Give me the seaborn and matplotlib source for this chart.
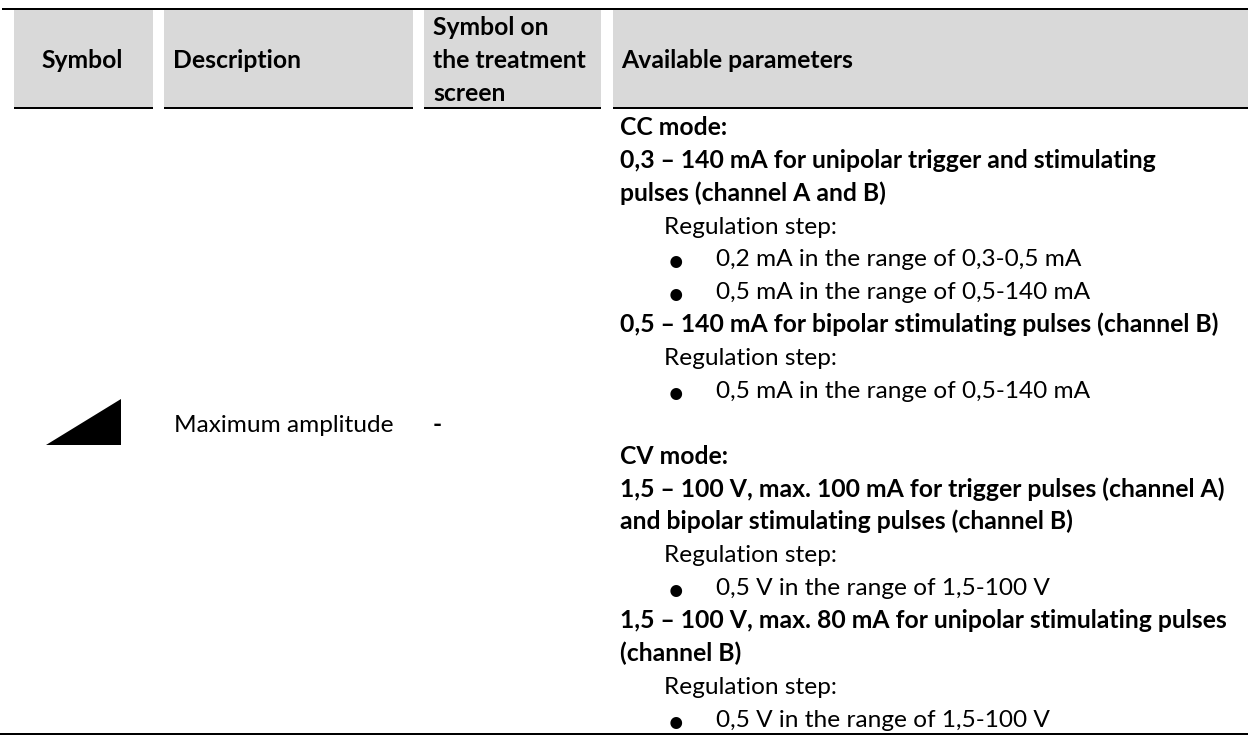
import matplotlib
matplotlib.use("Agg")
import matplotlib.pyplot as plt
from matplotlib.patches import Rectangle, Polygon
import seaborn as sns

headers = ["Symbol", "Description", "Symbol on\nthe treatment\nscreen", "Available parameters"]
description = "Maximum amplitude"
screen_symbol = "-"
# (kind, text): b = bold, r = indented plain, • = bullet
param_lines = [
    ("b", "CC mode:"),
    ("b", "0,3 – 140 mA for unipolar trigger and stimulating"),
    ("b", "pulses (channel A and B)"),
    ("r", "Regulation step:"),
    ("•", "0,2 mA in the range of 0,3-0,5 mA"),
    ("•", "0,5 mA in the range of 0,5-140 mA"),
    ("b", "0,5 – 140 mA for bipolar stimulating pulses (channel B)"),
    ("r", "Regulation step:"),
    ("•", "0,5 mA in the range of 0,5-140 mA"),
    ("", ""),
    ("b", "CV mode:"),
    ("b", "1,5 – 100 V, max. 100 mA for trigger pulses (channel A)"),
    ("b", "and bipolar stimulating pulses (channel B)"),
    ("r", "Regulation step:"),
    ("•", "0,5 V in the range of 1,5-100 V"),
    ("b", "1,5 – 100 V, max. 80 mA for unipolar stimulating pulses"),
    ("b", "(channel B)"),
    ("r", "Regulation step:"),
    ("•", "0,5 V in the range of 1,5-100 V"),
]

sns.set_theme(style="white")
plt.rcParams["font.family"] = ["Lato", "DejaVu Sans"]
fig = plt.figure(figsize=(12.48, 7.36), dpi=100)
ax = fig.add_axes([0, 0, 1, 1])
ax.set_xlim(0, 1248)
ax.set_ylim(736, 0)
ax.axis("off")

FS_B = 17.8
FS_R = 17.6
LW = 1.44
cols = [(14, 153), (164, 413), (424, 601), (613, 1248)]
for x0, x1 in cols:
    ax.add_patch(Rectangle((x0, 10), x1 - x0, 97, fc="#D9D9D9", ec="none"))
    ax.plot([x0, x1], [108, 108], color="black", lw=LW, solid_capstyle="butt")
ax.plot([2, 1248], [9, 9], color="black", lw=LW, solid_capstyle="butt")
ax.plot([0, 1248], [734, 734], color="black", lw=LW, solid_capstyle="butt")

bold = dict(color="black", fontsize=FS_B, va="baseline", fontweight="bold")
reg = dict(color="black", fontsize=FS_R, va="baseline")

ax.text(82.5, 68, headers[0], ha="center", **bold)
ax.text(173, 68, headers[1], ha="left", **bold)
for i, line in enumerate(headers[2].split("\n")):
    ax.text(433, 35 + 33 * i, line, ha="left", **bold)
ax.text(621, 68, headers[3], ha="left", **bold)

ax.add_patch(Polygon([(45.5, 445), (121, 445), (121, 399)], closed=True, fc="black", ec="none"))
ax.text(174, 431.5, description, ha="left", **reg)
ax.text(433, 431.5, screen_symbol, ha="left", **bold)

for i, (kind, text) in enumerate(param_lines):
    y = 135 + i * 32.87
    if kind == "b":
        ax.text(620.5, y, text, ha="left", **bold)
    elif kind == "r":
        ax.text(664, y, text, ha="left", **reg)
    elif kind == "•":
        ax.text(675.5, y - 6, "•", ha="center", va="center_baseline", color="black", fontsize=FS_R * 1.3)
        ax.text(716, y, text, ha="left", **reg)

fig.savefig("out.png", dpi=100)
